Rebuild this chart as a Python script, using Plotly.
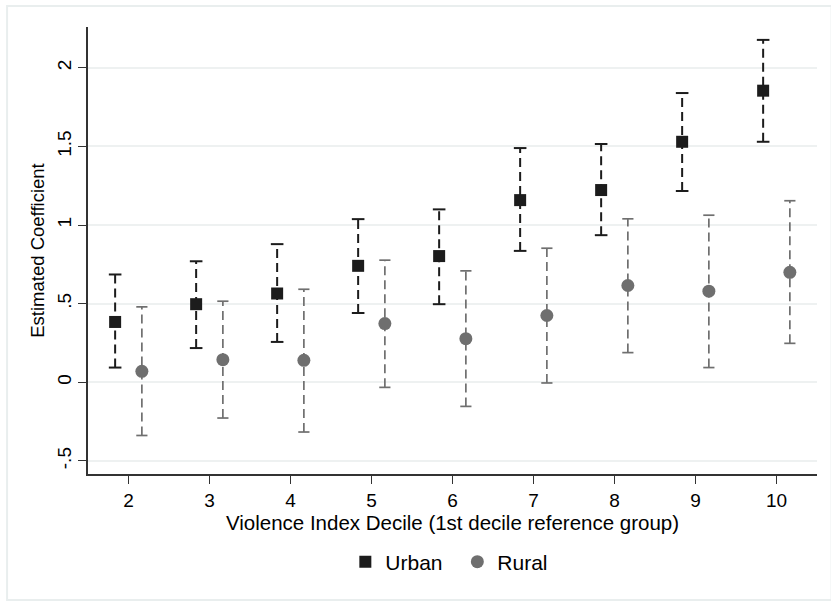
import plotly.graph_objects as go

deciles = [2, 3, 4, 5, 6, 7, 8, 9, 10]

urban_coef = [0.384, 0.497, 0.565, 0.741, 0.803, 1.159, 1.223, 1.530, 1.855]
urban_hi = [0.686, 0.770, 0.879, 1.038, 1.100, 1.490, 1.516, 1.840, 2.178]
urban_lo = [0.094, 0.218, 0.257, 0.441, 0.497, 0.836, 0.936, 1.217, 1.530]

rural_coef = [0.070, 0.144, 0.140, 0.374, 0.278, 0.425, 0.616, 0.580, 0.700]
rural_hi = [0.480, 0.516, 0.592, 0.777, 0.709, 0.853, 1.040, 1.063, 1.155]
rural_lo = [-0.338, -0.227, -0.316, -0.032, -0.153, -0.004, 0.189, 0.094, 0.248]

y_tickvals = [-0.5, 0, 0.5, 1, 1.5, 2]
y_ticktext = ["-.5", "0", ".5", "1", "1.5", "2"]

offset = 0.165
urban_color = "#1c1c1c"
rural_color = "#6f6f6f"
font = "Liberation Sans, Arial, sans-serif"

fig = go.Figure()


def add_series(xs, lo, hi, color, dash, lw, capsize):
    ex, ey = [], []
    for x, l, h in zip(xs, lo, hi):
        ex += [x, x, None]
        ey += [l, h, None]
    fig.add_trace(go.Scatter(x=ex, y=ey, mode="lines", showlegend=False,
                             line=dict(color=color, width=lw, dash=dash),
                             hoverinfo="skip"))
    fig.add_trace(go.Scatter(x=list(xs) + list(xs), y=list(hi) + list(lo),
                             mode="markers", showlegend=False, hoverinfo="skip",
                             marker=dict(symbol="line-ew", size=capsize,
                                         line=dict(color=color, width=lw))))


ux = [d - offset for d in deciles]
rx = [d + offset for d in deciles]

add_series(ux, urban_lo, urban_hi, urban_color, "9px,5px", 2, 9)
add_series(rx, rural_lo, rural_hi, rural_color, "9px,5px", 1.7, 8)

fig.add_trace(go.Scatter(x=ux, y=urban_coef, mode="markers", name="Urban",
                         marker=dict(symbol="square", size=12, color=urban_color)))
fig.add_trace(go.Scatter(x=rx, y=rural_coef, mode="markers", name="Rural",
                         marker=dict(symbol="circle", size=13, color=rural_color)))

fig.add_shape(type="rect", xref="paper", yref="paper",
              x0=-0.111, x1=1.02, y0=-0.282, y1=1.047,
              line=dict(color="#e9eeee", width=2), layer="below")

fig.update_layout(
    width=831, height=606,
    margin=dict(l=88, r=14, t=27, b=132),
    paper_bgcolor="white", plot_bgcolor="white",
    font=dict(family=font, size=19, color="black"),
    legend=dict(orientation="h", x=0.353, xanchor="left", y=-0.197, yanchor="middle",
                font=dict(size=21), itemwidth=30, traceorder="normal",
                entrywidth=67, entrywidthmode="pixels"),
    xaxis=dict(range=[1.5, 10.5], tickvals=deciles, ticks="outside", ticklen=8,
               tickcolor="#333", showline=True, linecolor="#333", linewidth=1.5,
               showgrid=False, zeroline=False, tickfont=dict(size=19),
               title=dict(text="Violence Index Decile (1st decile reference group)",
                          standoff=0, font=dict(size=20.5))),
    yaxis=dict(range=[-0.583, 2.26], tickvals=y_tickvals, ticktext=y_ticktext,
               tickangle=-90, ticks="outside", ticklen=8, tickcolor="#333",
               showline=True, linecolor="#333", linewidth=1.5, tickfont=dict(size=19),
               showgrid=True, gridcolor="#eef1f1", gridwidth=1.5, zeroline=False,
               title=dict(text="Estimated Coefficient", standoff=4, font=dict(size=18.5))),
)

fig.write_html("out.html")
